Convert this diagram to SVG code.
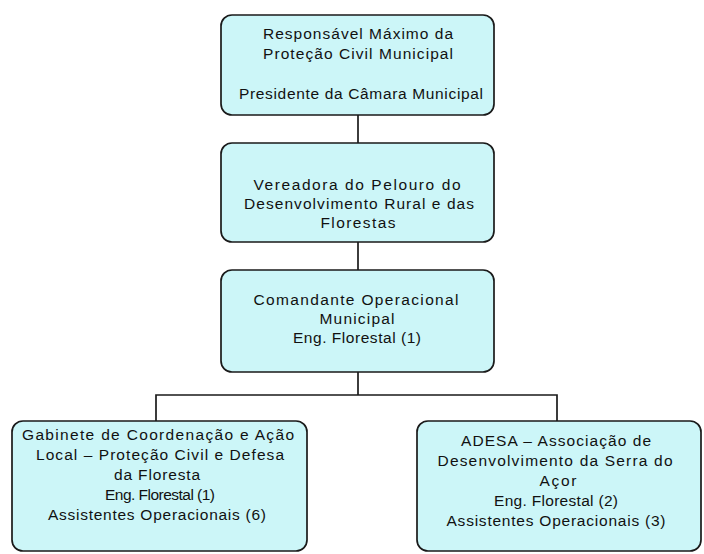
<svg xmlns="http://www.w3.org/2000/svg" width="704" height="554" viewBox="0 0 704 554">
<style>
.box{fill:#ccf6f8;stroke:#1a1a1a;stroke-width:1.7}
.t{font-family:"Liberation Sans",Arial,sans-serif;font-size:15.5px;fill:#111;text-anchor:middle}
.c{fill:none;stroke:#1a1a1a;stroke-width:1.7}
</style>
<rect width="704" height="554" fill="#ffffff"/>
<g id="connectors">
<line class="c" x1="358" y1="115" x2="358" y2="143"/>
<line class="c" x1="358" y1="242" x2="358" y2="270"/>
<polyline class="c" points="358,372 358,395"/>
<polyline class="c" points="156,421 156,395 557,395 557,421"/>
</g>
<g id="node-presidente">
<rect class="box" x="221" y="15" width="273" height="100" rx="11"/>
<text class="t" x="358" y="39" textLength="190" lengthAdjust="spacing">Responsável Máximo da</text>
<text class="t" x="358" y="59" textLength="190" lengthAdjust="spacing">Proteção Civil Municipal</text>
<text class="t" x="361" y="99" textLength="244" lengthAdjust="spacing">Presidente da Câmara Municipal</text>
</g>
<g id="node-vereadora">
<rect class="box" x="221" y="143" width="273" height="99" rx="11"/>
<text class="t" x="357" y="190" textLength="207" lengthAdjust="spacing">Vereadora do Pelouro do</text>
<text class="t" x="359" y="209" textLength="230" lengthAdjust="spacing">Desenvolvimento Rural e das</text>
<text class="t" x="358" y="228" textLength="75" lengthAdjust="spacing">Florestas</text>
</g>
<g id="node-comandante">
<rect class="box" x="221" y="270" width="273" height="102" rx="11"/>
<text class="t" x="356" y="305" textLength="205" lengthAdjust="spacing">Comandante Operacional</text>
<text class="t" x="357" y="324" textLength="75" lengthAdjust="spacing">Municipal</text>
<text class="t" x="357" y="343" textLength="128" lengthAdjust="spacing">Eng. Florestal (1)</text>
</g>
<g id="node-gabinete">
<rect class="box" x="12" y="421" width="295" height="130" rx="11"/>
<text class="t" x="158" y="440" textLength="272" lengthAdjust="spacing">Gabinete de Coordenação e Ação</text>
<text class="t" x="160" y="460" textLength="248" lengthAdjust="spacing">Local – Proteção Civil e Defesa</text>
<text class="t" x="157" y="480" textLength="86" lengthAdjust="spacing">da Floresta</text>
<text class="t" x="160" y="500" textLength="110" lengthAdjust="spacing">Eng. Florestal (1)</text>
<text class="t" x="157" y="520" textLength="218" lengthAdjust="spacing">Assistentes Operacionais (6)</text>
</g>
<g id="node-adesa">
<rect class="box" x="417" y="421" width="284" height="130" rx="11"/>
<text class="t" x="556" y="446" textLength="190" lengthAdjust="spacing">ADESA – Associação de</text>
<text class="t" x="555" y="466" textLength="235" lengthAdjust="spacing">Desenvolvimento da Serra do</text>
<text class="t" x="558" y="486" textLength="37" lengthAdjust="spacing">Açor</text>
<text class="t" x="556" y="506" textLength="124" lengthAdjust="spacing">Eng. Florestal (2)</text>
<text class="t" x="556" y="526" textLength="219" lengthAdjust="spacing">Assistentes Operacionais (3)</text>
</g>
</svg>
